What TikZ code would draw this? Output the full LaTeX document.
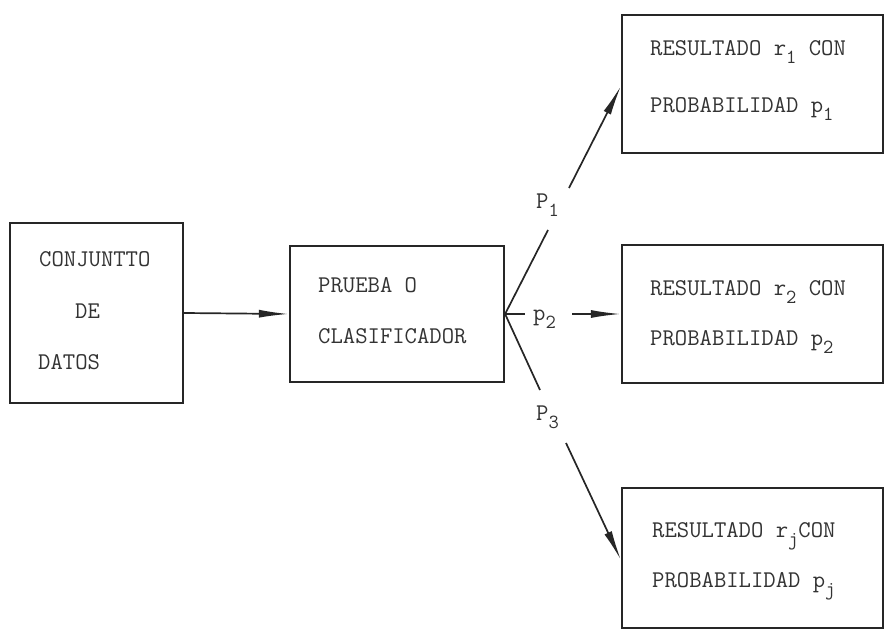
\documentclass[tikz,border=0pt]{standalone}
\usetikzlibrary{arrows.meta}
% lowered index in typewriter style
\newcommand{\dn}[1]{\raisebox{-8pt}{\fontsize{20}{20}\selectfont #1}}
\begin{document}
\begin{tikzpicture}[x=1pt,y=-1pt,
  box/.style={draw=black!85,line width=2.2pt,inner sep=0pt},
  txt/.style={anchor=base west,inner sep=0pt,text=black!80,
    font=\ttfamily\fontsize{24}{24}\selectfont},
  lbl/.style={anchor=base west,inner sep=0pt,text=black!80,
    font=\ttfamily\fontsize{24}{24}\selectfont},
  link/.style={draw=black!85,line width=1.7pt},
  arr/.style={link,-{Latex[length=30pt,width=8pt]}}]
\useasboundingbox (0,0) rectangle (884,631);

% boxes
\node[box,minimum width=173pt,minimum height=180pt] (datos) at (96.5,313) {};
\node[box,minimum width=214pt,minimum height=136pt] (prueba) at (397,314) {};
\node[box,minimum width=261pt,minimum height=138pt] (res1) at (752.5,84) {};
\node[box,minimum width=261pt,minimum height=138pt] (res2) at (752.5,314) {};
\node[box,minimum width=261pt,minimum height=140pt] (resj) at (752.5,558) {};

% box texts
\node[txt] (tconj) at (39,267) {CONJUNTTO};
\node[txt] (tde) at (75,318) {DE};
\node[txt] (tdatos) at (38,369) {DATOS};
\node[txt] (tprueba) at (318,292) {PRUEBA O};
\node[txt] (tclas) at (318,343) {CLASIFICADOR};
\node[txt] (tr1) at (650,56) {RESULTADO r\dn{1} CON};
\node[txt] (tp1) at (650,113) {PROBABILIDAD p\dn{1}};
\node[txt] (tr2) at (650,295) {RESULTADO r\dn{2} CON};
\node[txt] (tp2) at (650,345) {PROBABILIDAD p\dn{2}};
\node[txt] (trj) at (652,537) {RESULTADO r\dn{j}CON};
\node[txt] (tpj) at (652,587) {PROBABILIDAD p\dn{j}};

% branch labels
\node[lbl] (l1) at (536,209) {P\dn{1}};
\node[lbl] (l2) at (533,320) {p\dn{2}};
\node[lbl] (l3) at (536,420) {P\dn{3}};

% connectors
\coordinate (br) at (prueba.east);
\coordinate (u1) at (548,230);
\coordinate (u2) at (569,188);
\coordinate (e1) at (res1.west |- 0,86);
\coordinate (m1) at (525,314);
\coordinate (m2) at (572,314);
\coordinate (d1) at (540,390);
\coordinate (d2) at (566,443);
\coordinate (e3) at (resj.west |- 0,560);

\draw[arr] (datos.east) -- (prueba.west);
\draw[link] (br) -- (u1);
\draw[arr] (u2) -- (e1);
\draw[link] (br) -- (m1);
\draw[arr] (m2) -- (res2.west);
\draw[link] (br) -- (d1);
\draw[arr] (d2) -- (e3);
\end{tikzpicture}
\end{document}
